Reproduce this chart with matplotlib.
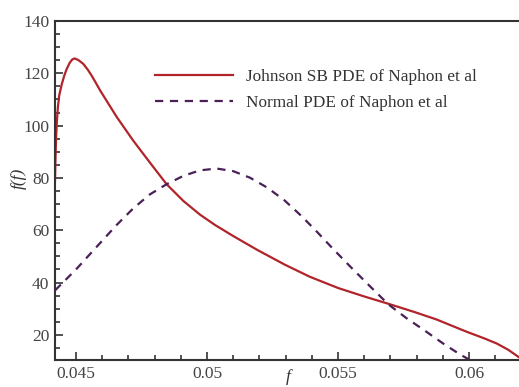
import matplotlib
matplotlib.use("Agg")
import matplotlib.pyplot as plt
from matplotlib.ticker import MultipleLocator

# Johnson SB PDE
jsb_f = [0.04420, 0.04422, 0.04424, 0.04427, 0.04431, 0.04436, 0.04445, 0.04455,
         0.04464, 0.04476, 0.04486, 0.04495, 0.04510, 0.04528, 0.04545, 0.04560,
         0.04575, 0.04592, 0.04625, 0.04655, 0.04719, 0.04782, 0.04846, 0.04910,
         0.04973, 0.05031, 0.05100, 0.05190, 0.05298, 0.05393, 0.05501, 0.05600,
         0.05692, 0.05790, 0.05876, 0.05991, 0.06060, 0.06106, 0.06150, 0.06190]
jsb_v = [79.0, 88.0, 95.0, 101.5, 107.0, 111.5, 115.5, 119.0,
         121.5, 124.0, 125.3, 125.7, 125.0, 123.6, 121.4, 119.1,
         116.5, 113.5, 108.2, 103.4, 94.2, 85.9, 77.6, 71.2,
         66.0, 62.0, 57.8, 52.6, 46.8, 42.2, 37.9, 34.7,
         31.9, 28.8, 25.9, 21.2, 18.6, 16.7, 14.3, 11.5]

# Normal PDE
nrm_f = [0.04420, 0.04500, 0.04592, 0.04655, 0.04719, 0.04782, 0.04846, 0.04910,
         0.04973, 0.05037, 0.05100, 0.05164, 0.05230, 0.05295, 0.05360, 0.05419,
         0.05480, 0.05546, 0.05620, 0.05692, 0.05760, 0.05826, 0.05900, 0.05966,
         0.06000]
nrm_v = [37.0, 45.0, 55.1, 62.0, 68.4, 73.7, 77.6, 80.8,
         82.9, 83.6, 82.6, 80.1, 76.3, 71.5, 65.5, 59.5,
         53.0, 46.2, 38.8, 31.7, 26.5, 22.0, 16.8, 12.5,
         10.6]

labels = ["Johnson SB PDE of Naphon et al", "Normal PDE of Naphon et al"]
xticks = [0.045, 0.05, 0.055, 0.06]
xticklabels = ['0.045', '0.05', '0.055', '0.06']
yticks = [20, 40, 60, 80, 100, 120, 140]

plt.rcParams['font.family'] = ['Liberation Serif', 'DejaVu Serif']
plt.rcParams['font.size'] = 12.5

fig = plt.figure(figsize=(5.19, 3.87), dpi=100)
ax = fig.add_axes([55/519, 27/387, (521.4-55)/519, 339/387])

ax.plot(jsb_f, jsb_v, color='#b0242a', lw=1.6, label=labels[0])
ax.plot(nrm_f, nrm_v, color='#4b2056', lw=1.6, linestyle=(0, (3.7, 3.0)), label=labels[1])

ax.set_xlim(0.0442, 0.0620)
ax.set_ylim(10.4, 140)
ax.xaxis.set_minor_locator(MultipleLocator(0.001))
ax.yaxis.set_minor_locator(MultipleLocator(5))
ax.set_xticks(xticks)
ax.set_xticklabels(xticklabels)
ax.set_yticks(yticks)

for s in ax.spines.values():
    s.set_linewidth(1.5)
    s.set_color('#333333')
ax.spines['right'].set_visible(False)

ax.tick_params(which='both', direction='in', colors='#333333', labelcolor='#444444',
               labelsize=12.5, width=1.2)
ax.tick_params(which='major', length=6, pad=4)
ax.tick_params(which='minor', length=3.5)
ax.tick_params(top=False, right=False)

ax.set_xlabel('f', style='italic', color='#333333')
ax.xaxis.set_label_coords((288-55)/466.4, (360-369)/339)
ax.set_ylabel('f(f)', style='italic', color='#333333')
ax.yaxis.set_label_coords((27-55)/466.4, (360-178)/339)

leg = ax.legend(loc='upper left', bbox_to_anchor=(155/519, 1 - 69/387),
                bbox_transform=fig.transFigure, frameon=False, handlelength=4.5,
                handletextpad=0.8, labelspacing=0.6, fontsize=12.4,
                borderpad=0, borderaxespad=0)
for t in leg.get_texts():
    t.set_color('#333333')

fig.savefig('out.png', dpi=100)
